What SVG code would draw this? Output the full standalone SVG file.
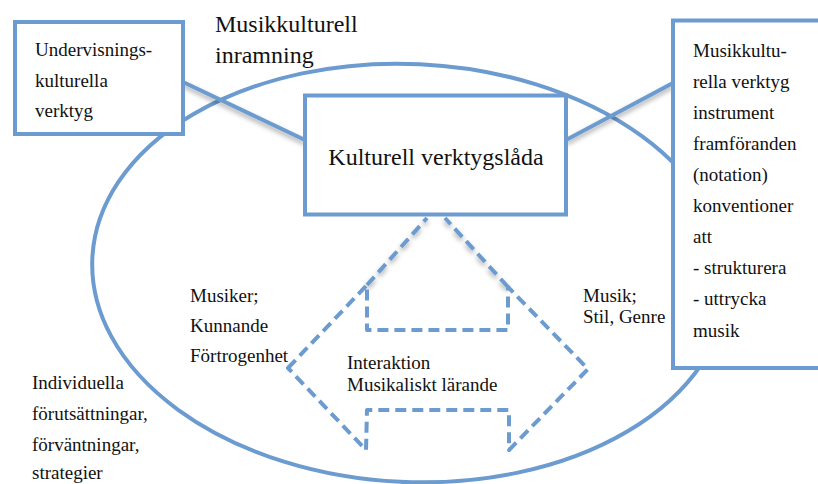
<svg xmlns="http://www.w3.org/2000/svg" width="818" height="484" viewBox="0 0 818 484">
<style>
.ln{fill:none;stroke:#6c9bd0;stroke-width:4}
.box{fill:#fff;stroke:#6c9bd0;stroke-width:4}
.dash{fill:none;stroke:#6c9bd0;stroke-width:4;stroke-dasharray:11 6;stroke-linejoin:round}
text{font-family:"Liberation Serif","Times New Roman",serif;font-size:19px;fill:#111}
.big{font-size:24px}
</style>
<defs>
<filter id="sh" x="-20%" y="-20%" width="140%" height="160%">
<feDropShadow dx="0" dy="3" stdDeviation="2.5" flood-color="#000" flood-opacity="0.35"/>
</filter>
</defs>
<rect width="818" height="484" fill="#fff"/>
<g id="frame">
<ellipse class="ln" cx="410" cy="273" rx="318" ry="209" transform="rotate(2.7 410 273)"/>
<text class="big" x="215" y="32">Musikkulturell</text>
<text class="big" x="215" y="63">inramning</text>
</g>
<g id="connectors">
<line class="ln" x1="183" y1="82" x2="305" y2="140" filter="url(#sh)"/>
<line class="ln" x1="566" y1="140" x2="673" y2="83" filter="url(#sh)"/>
<path class="dash" d="M367,285 L427,218 M508,287 L445,218" filter="url(#sh)"/>
</g>
<g id="interaction">
<path class="dash" d="M288,368 L367,285 L367,330 L508,330 L508,287 L588,369 L509,450 L509,410 L367,410 L366,450 Z"/>
<text x="347" y="369">Interaktion</text>
<text x="347" y="391">Musikaliskt lärande</text>
</g>
<g id="undervisning">
<rect class="box" x="15" y="22" width="168" height="112"/>
<text x="35" y="56">Undervisnings-</text>
<text x="35" y="87">kulturella</text>
<text x="35" y="117">verktyg</text>
</g>
<g id="verktygslada">
<rect class="box" x="305" y="95.5" width="261" height="119"/>
<text class="big" x="436" y="165" text-anchor="middle">Kulturell verktygslåda</text>
</g>
<g id="musikkulturella">
<rect class="box" x="673" y="20.5" width="170" height="347.5"/>
<text x="693" y="57">Musikkultu-</text>
<text x="693" y="88">rella verktyg</text>
<text x="693" y="119">instrument</text>
<text x="693" y="150">framföranden</text>
<text x="693" y="181">(notation)</text>
<text x="693" y="212">konventioner</text>
<text x="693" y="243">att</text>
<text x="693" y="274">- strukturera</text>
<text x="693" y="305">- uttrycka</text>
<text x="693" y="337">musik</text>
</g>
<g id="musiker">
<text x="190" y="302">Musiker;</text>
<text x="190" y="332">Kunnande</text>
<text x="190" y="362">Förtrogenhet</text>
</g>
<g id="musik">
<text x="583" y="302">Musik;</text>
<text x="583" y="323">Stil, Genre</text>
</g>
<g id="individuella">
<text x="32" y="389">Individuella</text>
<text x="32" y="420">förutsättningar,</text>
<text x="32" y="451">förväntningar,</text>
<text x="32" y="479">strategier</text>
</g>
</svg>
